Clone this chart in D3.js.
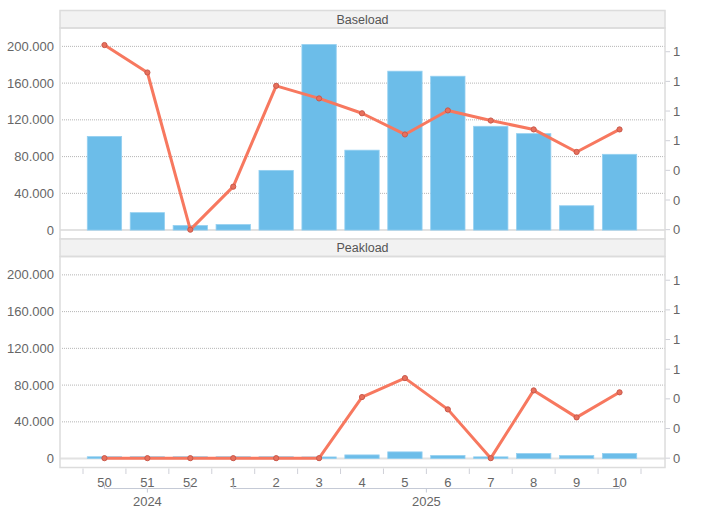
<!DOCTYPE html>
<html>
<head>
<meta charset="utf-8">
<script src="https://cdn.jsdelivr.net/npm/d3@7"></script>
<style>
  body { margin: 0; background: #fff; }
  svg text { font-family: "Liberation Sans", Arial, sans-serif; }
</style>
</head>
<body>
<svg id="chart" width="728" height="508"></svg>
<script>
// data
const weeks = ["50", "51", "52", "1", "2", "3", "4", "5", "6", "7", "8", "9", "10"];
const years = ["2024", "2024", "2024", "2025", "2025", "2025", "2025", "2025", "2025", "2025", "2025", "2025", "2025"];
const panels = ["Baseload", "Peakload"];
const baseloadBars = [102000, 19000, 5000, 6000, 65000, 202000, 87000, 173000, 167500, 113000, 105000, 26500, 82500];
const baseloadLine = [1.245, 1.06, 0, 0.29, 0.97, 0.885, 0.785, 0.642, 0.804, 0.736, 0.676, 0.524, 0.676];
const peakloadBars = [2000, 2000, 2000, 2000, 2000, 1800, 4000, 7300, 3300, 1900, 5500, 3300, 5500];
const peakloadLine = [0, 0, 0, 0, 0, 0, 0.412, 0.54, 0.329, 0, 0.457, 0.275, 0.444];
const leftTicks = [0, 40000, 80000, 120000, 160000, 200000];
const rightTicks = [0, 0.2, 0.4, 0.6, 0.8, 1.0, 1.2];

const barsByPanel = [baseloadBars, peakloadBars];
const lineByPanel = [baseloadLine, peakloadLine];

const svg = d3.select("#chart");
const left = 60, right = 665;
const stripH = 17.5, bodyH = 211;
const panelTops = [10.5, 239];

const de = d3.formatLocale({ decimal: ",", thousands: ".", grouping: [3], currency: ["", "€"] });
const fmtLeft = de.format(",");
const fmtRight = d3.format(".0f");

const x = d3.scaleBand().domain(d3.range(weeks.length)).range([83, 641]).paddingInner(0.2).paddingOuter(0.1);
const step = x.step();
const yL = d3.scaleLinear().domain([-9700, 220000]).range([bodyH, 0]);
const yR = d3.scaleLinear().domain([-0.063, 1.36]).range([bodyH, 0]);

const barColor = "#6cbde9";
const lineColor = "#f7785f";

panels.forEach((name, p) => {
  const top = panelTops[p];
  const bodyTop = top + stripH;
  const g = svg.append("g");

  // strip
  g.append("rect")
    .attr("x", left).attr("y", top)
    .attr("width", right - left).attr("height", stripH)
    .attr("fill", "#f2f2f2").attr("stroke", "#dcdcdc").attr("stroke-width", 1.5);
  g.append("text")
    .attr("x", (left + right) / 2).attr("y", top + stripH / 2 + 4.5)
    .attr("text-anchor", "middle").attr("fill", "#555").attr("font-size", "12.5px")
    .text(name);

  const body = g.append("g").attr("transform", `translate(0,${bodyTop})`);

  // grid
  body.selectAll(".grid")
    .data(leftTicks.filter(d => d > 0))
    .join("line")
    .attr("x1", left + 2).attr("x2", right)
    .attr("y1", d => yL(d)).attr("y2", d => yL(d))
    .attr("stroke", "#b5b5b5").attr("stroke-width", 1).attr("stroke-dasharray", "1,1");
  body.append("line")
    .attr("x1", left).attr("x2", right)
    .attr("y1", yL(0)).attr("y2", yL(0))
    .attr("stroke", "#e2e2e2").attr("stroke-width", 2);

  // left axis labels
  body.selectAll(".yl")
    .data(leftTicks)
    .join("text")
    .attr("x", 54).attr("y", d => yL(d) + 4.5)
    .attr("text-anchor", "end").attr("fill", "#666").attr("font-size", "13px")
    .text(d => fmtLeft(d));

  // right axis
  const ra = body.selectAll(".yr").data(rightTicks).join("g")
    .attr("transform", d => `translate(${right},${yR(d)})`);
  ra.append("line").attr("x1", 0).attr("x2", 5).attr("stroke", "#cfd0d8").attr("stroke-width", 1);
  ra.append("text").attr("x", 8).attr("y", 4.5)
    .attr("fill", "#666").attr("font-size", "13px")
    .text(d => fmtRight(d));

  // bars
  body.selectAll(".bar")
    .data(barsByPanel[p])
    .join("rect")
    .attr("x", (d, i) => x(i)).attr("width", x.bandwidth())
    .attr("y", d => yL(d)).attr("height", d => yL(0) - yL(d))
    .attr("fill", barColor).attr("stroke", "#95d0f1").attr("stroke-width", 0.8);

  // line
  const line = d3.line()
    .x((d, i) => x(i) + x.bandwidth() / 2)
    .y(d => yR(d));
  body.append("path")
    .datum(lineByPanel[p])
    .attr("d", line)
    .attr("fill", "none").attr("stroke", lineColor).attr("stroke-width", 3)
    .attr("stroke-linejoin", "round");
  body.selectAll(".pt")
    .data(lineByPanel[p])
    .join("circle")
    .attr("cx", (d, i) => x(i) + x.bandwidth() / 2).attr("cy", d => yR(d))
    .attr("r", 2.6).attr("fill", "#e8705c").attr("stroke", "#c9594b").attr("stroke-width", 1);

  // frame
  g.append("rect")
    .attr("x", left).attr("y", bodyTop)
    .attr("width", right - left).attr("height", bodyH)
    .attr("fill", "none").attr("stroke", "#dcdcdc").attr("stroke-width", 1.5);
});

// x axis
const axisY = panelTops[1] + stripH + bodyH;
const bounds = d3.range(weeks.length + 1).map(i => 83 + i * step);
svg.selectAll(".xt").data(bounds).join("line")
  .attr("x1", d => d).attr("x2", d => d)
  .attr("y1", axisY + 1).attr("y2", axisY + 6.5)
  .attr("stroke", "#cfd0d8").attr("stroke-width", 1);
svg.selectAll(".xl").data(weeks).join("text")
  .attr("x", (d, i) => x(i) + x.bandwidth() / 2).attr("y", axisY + 19)
  .attr("text-anchor", "middle").attr("fill", "#666").attr("font-size", "13px")
  .text(d => d);

// year brackets
const yearGroups = d3.groups(weeks.map((w, i) => ({ i, year: years[i] })), d => d.year);
const by = axisY + 21;
yearGroups.forEach(([year, items]) => {
  const x1 = x(items[0].i) + x.bandwidth() / 2;
  const x2 = x(items[items.length - 1].i) + x.bandwidth() / 2;
  const mid = (x1 + x2) / 2;
  const br = svg.append("g").attr("stroke", "#c5cad6").attr("stroke-width", 1).attr("fill", "none");
  br.append("path").attr("d", `M${x1},${by - 4}V${by}H${x2}V${by - 4}`);
  br.append("line").attr("x1", mid).attr("x2", mid).attr("y1", by).attr("y2", by + 4);
  svg.append("text")
    .attr("x", mid).attr("y", by + 17)
    .attr("text-anchor", "middle").attr("fill", "#666").attr("font-size", "13px")
    .text(year);
});
</script>
</body>
</html>
